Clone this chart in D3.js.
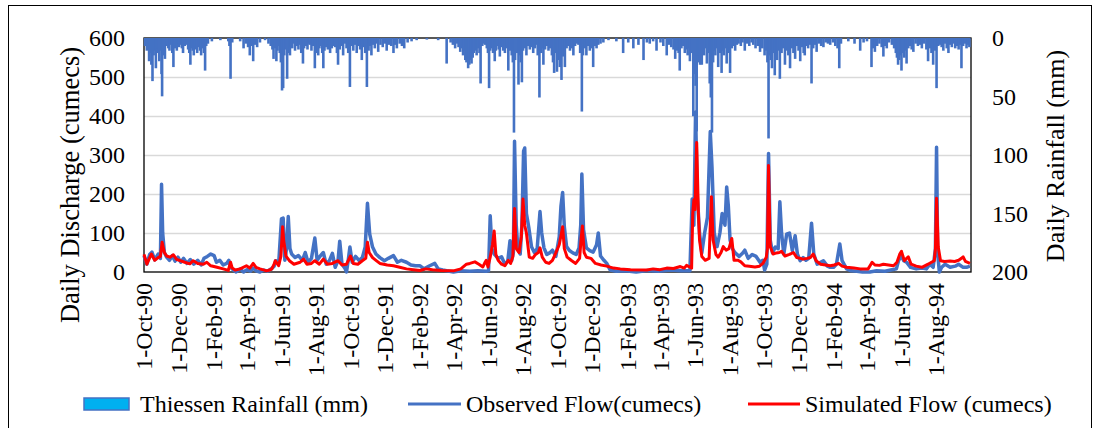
<!DOCTYPE html>
<html>
<head>
<meta charset="utf-8">
<script src="https://cdn.jsdelivr.net/npm/d3@7"></script>
<style>
  body { margin: 0; background: #fff; }
  svg text { font-family: "Liberation Serif", "Times New Roman", serif; fill: #000; }
</style>
</head>
<body>
<div class="container"></div>
<script>
  // series: [days since 1-Oct-90, value]
  var obsFlow = [[0,42],[5,20],[10,45],[14,51],[19,31],[25,46],[29,35],[31,225],[33,100],[36,50],[40,38],[45,30],[50,42],[55,28],[60,38],[65,25],[70,35],[76,22],[82,32],[88,20],[95,30],[101,18],[106,35],[112,40],[118,46],[124,42],[128,25],[134,30],[140,18],[146,22],[150,30],[153,12],[158,5],[163,0],[170,8],[176,0],[182,6],[188,2],[193,10],[198,3],[205,0],[212,5],[218,2],[225,8],[230,15],[233,29],[238,20],[243,136],[246,138],[249,30],[252,60],[255,142],[258,60],[261,46],[267,37],[273,42],[280,30],[285,50],[290,25],[296,35],[302,87],[306,30],[311,40],[317,50],[322,20],[328,30],[333,48],[338,12],[343,30],[346,79],[350,20],[355,10],[358,0],[361,30],[364,64],[368,25],[374,40],[380,30],[386,37],[391,64],[395,176],[399,97],[404,64],[410,46],[417,37],[425,29],[432,35],[441,42],[448,25],[455,30],[464,25],[472,18],[480,16],[488,16],[495,8],[505,16],[514,22],[520,8],[528,5],[535,3],[547,0],[560,3],[576,2],[590,3],[605,2],[609,3],[612,144],[615,60],[619,46],[626,35],[632,39],[638,20],[643,28],[647,80],[650,29],[653,50],[655,335],[658,120],[661,60],[665,46],[668,120],[671,310],[673,318],[676,150],[680,116],[685,65],[690,50],[695,60],[700,155],[703,100],[707,62],[712,45],[717,49],[722,56],[728,40],[734,90],[737,168],[740,204],[743,116],[747,65],[752,55],[758,49],[764,45],[769,62],[772,120],[774,251],[777,108],[782,62],[788,55],[794,51],[800,70],[803,100],[807,41],[813,30],[818,22],[824,5],[835,2],[850,3],[870,0],[890,4],[910,2],[930,5],[950,3],[965,3],[969,187],[972,120],[975,410],[978,200],[982,100],[986,49],[991,100],[996,140],[1001,360],[1004,270],[1008,100],[1013,65],[1018,100],[1022,150],[1027,120],[1030,218],[1033,168],[1036,82],[1040,60],[1045,49],[1052,40],[1058,48],[1062,56],[1068,35],[1075,45],[1082,40],[1089,25],[1094,30],[1097,5],[1101,20],[1104,304],[1107,82],[1111,49],[1116,64],[1121,60],[1124,180],[1127,100],[1131,46],[1136,97],[1141,100],[1146,55],[1151,93],[1155,46],[1160,29],[1165,37],[1170,30],[1175,35],[1180,125],[1184,46],[1190,20],[1196,25],[1201,29],[1208,15],[1213,12],[1219,12],[1224,20],[1230,72],[1234,29],[1242,8],[1250,3],[1260,2],[1270,0],[1283,0],[1295,3],[1310,2],[1320,5],[1330,8],[1334,30],[1339,41],[1343,29],[1348,25],[1355,12],[1365,8],[1375,10],[1383,8],[1389,20],[1395,12],[1399,60],[1401,320],[1403,46],[1406,0],[1410,12],[1416,20],[1425,12],[1434,15],[1440,20],[1448,12],[1454,12],[1460,15]];

  var simFlow = [[0,45],[5,20],[13,46],[19,30],[25,37],[29,40],[32,76],[36,50],[40,41],[46,38],[52,44],[58,32],[64,29],[72,25],[81,21],[87,29],[95,22],[105,20],[111,25],[118,16],[129,12],[140,8],[149,4],[153,25],[156,10],[161,5],[170,8],[181,16],[187,10],[193,22],[198,12],[205,8],[217,3],[222,5],[226,8],[230,20],[232,29],[238,16],[242,40],[245,116],[247,80],[251,41],[257,29],[265,20],[276,25],[282,33],[288,20],[296,22],[302,29],[310,20],[317,33],[324,20],[333,22],[343,29],[350,18],[358,20],[365,41],[370,22],[378,20],[386,29],[392,35],[395,76],[398,50],[404,37],[410,30],[417,22],[430,18],[441,16],[452,12],[464,8],[476,6],[488,4],[498,8],[510,6],[525,4],[547,3],[560,8],[570,20],[576,22],[585,26],[592,20],[599,13],[603,25],[605,30],[608,13],[612,38],[616,70],[619,105],[622,45],[626,30],[632,20],[638,16],[644,30],[648,22],[652,40],[655,163],[658,60],[663,50],[667,90],[670,187],[673,120],[676,100],[681,38],[687,35],[692,45],[697,50],[700,62],[704,38],[710,25],[716,22],[722,30],[728,49],[734,70],[738,100],[740,116],[743,60],[748,38],[755,30],[763,22],[770,35],[773,90],[775,118],[778,50],[782,38],[790,35],[798,22],[808,18],[818,15],[830,10],[842,8],[860,6],[889,5],[900,8],[912,6],[924,10],[936,9],[948,14],[955,10],[959,17],[966,12],[968,10],[970,150],[972,185],[974,160],[977,332],[980,150],[982,82],[986,40],[992,30],[999,35],[1001,120],[1003,193],[1006,82],[1011,45],[1015,38],[1020,50],[1024,65],[1029,56],[1034,60],[1039,86],[1043,30],[1050,30],[1055,26],[1062,16],[1070,15],[1080,13],[1088,15],[1094,22],[1100,38],[1102,60],[1104,273],[1107,65],[1112,46],[1118,49],[1123,50],[1127,53],[1133,41],[1141,45],[1148,50],[1154,37],[1160,35],[1165,33],[1172,35],[1178,37],[1183,46],[1188,29],[1196,20],[1205,18],[1213,16],[1220,18],[1228,22],[1234,15],[1242,12],[1255,10],[1266,8],[1280,8],[1285,20],[1287,25],[1292,18],[1300,17],[1307,20],[1316,18],[1325,16],[1331,25],[1336,46],[1339,53],[1344,29],[1351,39],[1356,20],[1365,15],[1375,12],[1386,20],[1392,25],[1397,29],[1399,60],[1401,189],[1404,64],[1408,29],[1415,27],[1425,28],[1433,27],[1440,30],[1445,35],[1448,39],[1452,27],[1460,22]];

  var rainfall = [[2,6],[5,10],[7,8],[9,19],[11,12],[13,22],[15,36],[17,14],[19,10],[21,25],[23,12],[25,8],[27,19],[29,10],[31,30],[32,49],[34,14],[37,17],[40,6],[43,8],[45,10],[48,5],[50,12],[52,24],[55,8],[58,10],[60,4],[62,7],[65,5],[67,8],[69,12],[72,6],[75,5],[78,9],[80,12],[82,22],[84,8],[86,10],[88,14],[90,6],[92,9],[94,12],[97,7],[99,10],[101,14],[104,8],[106,12],[108,27],[110,6],[113,4],
    [120,2],[135,1],[149,2],[151,6],[153,34],[156,3],[170,2],[176,8],[180,4],[184,7],[187,14],[190,6],[193,19],[196,5],[200,7],[205,3],[214,1],
    [220,4],[224,6],[227,9],[229,17],[231,8],[234,19],[236,10],[238,6],[240,12],[242,20],[244,44],[246,42],[248,14],[250,9],[253,34],[255,12],[258,14],[260,6],[262,8],[265,4],[267,10],[270,6],[273,9],[276,5],[278,12],[281,21],[283,8],[286,6],[289,9],[291,4],[293,5],[296,10],[299,6],[302,25],[304,12],[306,8],[308,14],[310,8],[313,6],[315,12],[317,25],[319,10],[322,7],[325,9],[327,5],[329,12],[332,8],[335,6],[338,7],[341,12],[343,22],[346,9],[349,6],[352,14],[355,4],[358,8],[361,12],[364,41],[367,6],[370,10],[373,5],[376,12],[379,6],[382,9],[385,18],[388,7],[391,12],[394,41],[397,10],[400,6],[402,14],[405,5],[408,8],[411,4],[414,11],[418,5],[422,7],[426,4],[429,10],[433,5],[437,6],[441,12],[444,5],[447,8],[452,4],[456,6],[460,8],[466,3],[473,2],[482,1],
    [500,0.5],[520,1],
    [535,21],[542,3],[546,5],[550,8],[553,4],[556,7],[559,11],[561,8],[564,14],[566,10],[568,18],[570,20],[573,25],[575,22],[577,18],[579,21],[581,16],[583,12],[586,10],[588,14],[590,8],[593,12],[595,38],[598,6],[601,4],[603,5],[606,8],[608,12],[610,42],[612,10],[615,8],[617,12],[620,19],[622,10],[624,6],[627,9],[629,15],[632,7],[635,10],[638,12],[641,8],[644,27],[647,10],[650,14],[652,20],[654,80],[656,18],[659,12],[662,39],[664,14],[666,20],[668,37],[670,10],[673,8],[676,14],[679,6],[682,9],[685,7],[688,12],[691,8],[694,5],[696,14],[699,50],[702,12],[704,8],[706,22],[709,9],[712,6],[715,10],[718,8],[721,14],[723,20],[725,29],[728,12],[730,28],[732,18],[735,24],[738,35],[741,15],[744,24],[747,8],[750,6],[753,10],[756,8],[759,14],[762,6],[765,4],[768,5],[771,12],[774,62],[776,14],[779,8],[782,14],[785,6],[788,10],[791,8],[794,24],[797,6],[800,8],[803,5],[807,4],[812,3],[821,1],
    [835,2],[847,12],[856,3],[865,8],[874,5],[883,18],[889,3],[894,4],[900,2],[906,10],[913,3],[918,6],[924,14],[928,5],[932,7],[936,9],[939,17],[942,10],[945,12],[947,27],[950,8],[953,6],[956,12],[958,9],[961,14],[963,8],[965,19],[968,12],[971,66],[973,30],[975,40],[977,79],[979,20],[981,14],[983,22],[986,22],[988,10],[990,14],[992,8],[995,21],[997,12],[1000,38],[1002,50],[1004,80],[1006,20],[1008,10],[1010,14],[1012,8],[1015,24],[1018,12],[1021,29],[1023,10],[1025,14],[1027,8],[1030,21],[1033,12],[1036,29],[1039,8],[1042,6],[1045,10],[1048,5],[1051,4],[1055,6],[1058,3],[1062,10],[1066,4],[1070,6],[1074,3],[1077,5],[1081,8],[1085,6],[1089,11],[1093,8],[1097,14],[1100,10],[1102,20],[1104,85],[1106,14],[1108,18],[1110,25],[1112,12],[1115,31],[1117,14],[1119,18],[1121,10],[1124,34],[1127,12],[1130,8],[1133,22],[1136,10],[1139,14],[1142,25],[1145,8],[1148,12],[1151,17],[1154,6],[1157,10],[1160,19],[1163,7],[1166,12],[1168,14],[1171,6],[1174,8],[1177,5],[1180,38],[1183,8],[1186,5],[1189,11],[1193,4],[1197,6],[1201,7],[1205,3],[1209,4],[1213,5],[1218,3],[1222,6],[1226,8],[1229,25],[1232,4],
    [1245,2],[1256,4],[1266,10],[1272,3],[1278,2],[1286,24],[1289,8],[1292,11],[1296,6],[1300,4],[1304,7],[1307,15],[1310,6],[1313,8],[1317,3],[1322,5],[1326,8],[1329,12],[1331,16],[1333,22],[1335,18],[1337,14],[1339,27],[1341,12],[1344,16],[1346,10],[1348,21],[1351,8],[1354,6],[1357,9],[1360,11],[1364,4],[1368,6],[1372,5],[1375,8],[1379,4],[1383,9],[1386,19],[1389,8],[1392,12],[1395,22],[1398,10],[1401,42],[1404,6],[1407,5],[1410,7],[1413,10],[1416,4],[1419,8],[1422,12],[1425,5],[1428,7],[1431,4],[1434,8],[1437,6],[1440,9],[1443,5],[1445,25],[1448,6],[1451,4],[1454,8],[1457,5],[1459,7]];

  var xTickLabels = ["1-Oct-90","1-Dec-90","1-Feb-91","1-Apr-91","1-Jun-91","1-Aug-91","1-Oct-91","1-Dec-91","1-Feb-92","1-Apr-92","1-Jun-92","1-Aug-92","1-Oct-92","1-Dec-92","1-Feb-93","1-Apr-93","1-Jun-93","1-Aug-93","1-Oct-93","1-Dec-93","1-Feb-94","1-Apr-94","1-Jun-94","1-Aug-94"];
  var flowTicks = [0,100,200,300,400,500,600];
  var rainTicks = [0,50,100,150,200];
  var legendLabels = ["Thiessen Rainfall (mm)","Observed Flow(cumecs)","Simulated Flow (cumecs)"];

  // Frame attributes
  var w = 1099;
  var h = 428;
  var plotL = 144, plotR = 971, plotT = 38, plotB = 272;
  var blue = "#4472c4", red = "#ff0000";

  var svg = d3.select(".container").append("svg").attr("width", w).attr("height", h);

  var start = new Date(1990, 9, 1);
  var x = d3.scaleTime().domain([start, new Date(1994, 9, 1)]).range([plotL, plotR - 0.5]);
  var yFlow = d3.scaleLinear().domain([0, 600]).range([plotB, plotT]);
  var yRain = d3.scaleLinear().domain([0, 200]).range([plotT, plotB]);
  var parseTick = d3.timeParse("%d-%b-%y");
  function dayDate(d){ return d3.timeDay.offset(start, d); }

  //outer border
  svg.append("rect").attr("x", 8.5).attr("y", 5.5).attr("width", 1083).attr("height", 440)
    .attr("fill", "none").attr("stroke", "#000").attr("stroke-width", 1);

  //grid
  svg.append("g").selectAll("line").data(flowTicks.slice(1, -1)).enter().append("line")
    .attr("x1", plotL).attr("x2", plotR)
    .attr("y1", function(d){ return Math.round(yFlow(d)) + 0.5; })
    .attr("y2", function(d){ return Math.round(yFlow(d)) + 0.5; })
    .attr("stroke", "#d9d9d9").attr("stroke-width", 1.5);

  //plot frame
  svg.append("rect").attr("x", plotL).attr("y", plotT).attr("width", plotR - plotL).attr("height", plotB - plotT)
    .attr("fill", "none").attr("stroke", "#000").attr("stroke-width", 1.3);

  //rainfall bars hang from the top
  svg.append("g").selectAll("rect").data(rainfall).enter().append("rect")
    .attr("x", function(d){ return x(dayDate(d[0])) - 1.3; })
    .attr("y", plotT)
    .attr("width", 2.6)
    .attr("height", function(d){ return yRain(d[1]) - plotT + 1; })
    .attr("fill", blue);

  var line = d3.line()
    .x(function(d){ return x(dayDate(d[0])); })
    .y(function(d){ return yFlow(d[1]); });

  svg.append("path").datum(obsFlow).attr("d", line)
    .attr("fill", "none").attr("stroke", blue).attr("stroke-width", 3.5).attr("stroke-linejoin", "round");
  svg.append("path").datum(simFlow).attr("d", line)
    .attr("fill", "none").attr("stroke", red).attr("stroke-width", 3).attr("stroke-linejoin", "round");

  //left axis labels
  svg.append("g").selectAll("text").data(flowTicks).enter().append("text")
    .attr("x", 125).attr("y", function(d){ return yFlow(d); }).attr("dy", "0.35em")
    .attr("text-anchor", "end").style("font-size", "24px").text(function(d){ return d; });

  //right axis labels
  svg.append("g").selectAll("text").data(rainTicks).enter().append("text")
    .attr("x", 992).attr("y", function(d){ return yRain(d); }).attr("dy", "0.35em")
    .attr("text-anchor", "start").style("font-size", "24px").text(function(d){ return d; });

  //date labels
  svg.append("g").selectAll("text").data(xTickLabels).enter().append("text")
    .attr("transform", function(d){ return "translate(" + x(parseTick(d)) + ",283) rotate(-90)"; })
    .attr("dy", "0.35em").attr("text-anchor", "end").style("font-size", "24px")
    .text(function(d){ return d; });

  //axis titles
  svg.append("text").attr("transform", "translate(70,185) rotate(-90)").attr("dy", "0.35em")
    .attr("text-anchor", "middle").style("font-size", "26.5px").text("Daily Discharge (cumecs)");
  svg.append("text").attr("transform", "translate(1055,156) rotate(-90)").attr("dy", "0.35em")
    .attr("text-anchor", "middle").style("font-size", "26px").text("Daily Rainfall (mm)");

  //legend
  var ly = 404;
  svg.append("rect").attr("x", 84).attr("y", ly - 6).attr("width", 45).attr("height", 12)
    .attr("fill", "#00b0f0").attr("stroke", blue).attr("stroke-width", 1.5);
  svg.append("text").attr("x", 140).attr("y", ly).attr("dy", "0.35em").style("font-size", "24px").text(legendLabels[0]);
  svg.append("line").attr("x1", 408).attr("x2", 461).attr("y1", ly).attr("y2", ly)
    .attr("stroke", blue).attr("stroke-width", 3);
  svg.append("text").attr("x", 466).attr("y", ly).attr("dy", "0.35em").style("font-size", "24px").text(legendLabels[1]);
  svg.append("line").attr("x1", 748).attr("x2", 800).attr("y1", ly).attr("y2", ly)
    .attr("stroke", red).attr("stroke-width", 3);
  svg.append("text").attr("x", 805).attr("y", ly).attr("dy", "0.35em").style("font-size", "24px").text(legendLabels[2]);
</script>
</body>
</html>
